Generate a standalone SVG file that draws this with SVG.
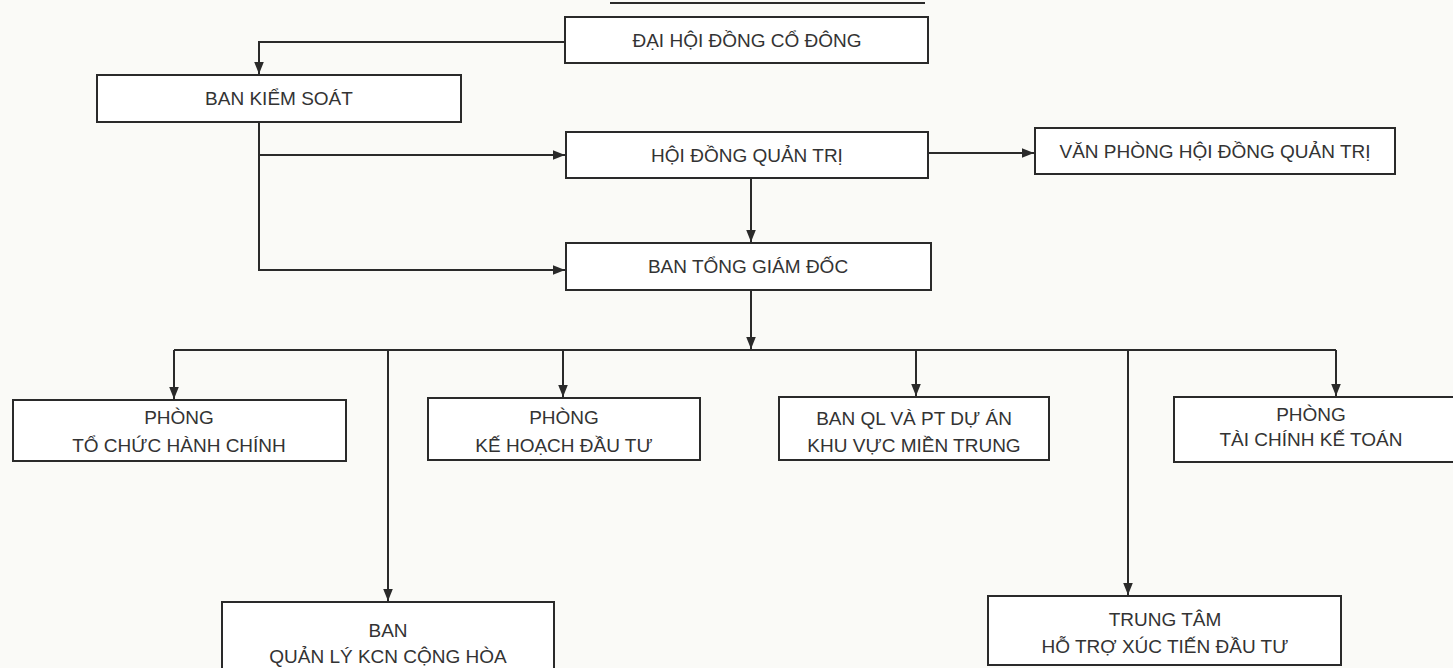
<svg xmlns="http://www.w3.org/2000/svg" width="1453" height="668" viewBox="0 0 1453 668">
<defs>
<style>
.box{fill:#ffffff;stroke:#2a2a2a;stroke-width:2}
.t{font-family:"Liberation Sans",Arial,sans-serif;font-size:19px;fill:#333333;text-anchor:middle}
.c{fill:none;stroke:#2a2a2a;stroke-width:2}
</style>
<marker id="ah" viewBox="0 0 10 10" refX="10" refY="5" markerWidth="6" markerHeight="6" orient="auto" markerUnits="strokeWidth">
<path d="M0,1 L10,5 L0,9 z" fill="#2a2a2a"/>
</marker>
</defs>
<rect width="1453" height="668" fill="#fafaf7"/>
<line x1="610" y1="3" x2="925" y2="3" stroke="#2a2a2a" stroke-width="2"/>
<g id="connectors">
<path class="c" d="M565,42 H259 V74" marker-end="url(#ah)"/>
<path class="c" d="M259,122 V270 H565" marker-end="url(#ah)"/>
<path class="c" d="M259,155 H565" marker-end="url(#ah)"/>
<path class="c" d="M928,153 H1034" marker-end="url(#ah)"/>
<path class="c" d="M751,178 V242" marker-end="url(#ah)"/>
<path class="c" d="M751,290 V349" marker-end="url(#ah)"/>
<path class="c" d="M174,350 H1336"/>
<path class="c" d="M174,350 V399" marker-end="url(#ah)"/>
<path class="c" d="M388,350 V601" marker-end="url(#ah)"/>
<path class="c" d="M563,350 V397" marker-end="url(#ah)"/>
<path class="c" d="M916,350 V396" marker-end="url(#ah)"/>
<path class="c" d="M1128,350 V595" marker-end="url(#ah)"/>
<path class="c" d="M1336,350 V396" marker-end="url(#ah)"/>
</g>
<g id="dhdcd">
<rect class="box" x="565" y="17" width="363" height="46"/>
<text class="t" x="747" y="47">ĐẠI HỘI ĐỒNG CỔ ĐÔNG</text>
</g>
<g id="bks">
<rect class="box" x="97" y="75" width="364" height="47"/>
<text class="t" x="279" y="105">BAN KIỂM SOÁT</text>
</g>
<g id="hdqt">
<rect class="box" x="566" y="132" width="362" height="46"/>
<text class="t" x="747" y="162">HỘI ĐỒNG QUẢN TRỊ</text>
</g>
<g id="vphdqt">
<rect class="box" x="1035" y="128" width="360" height="46"/>
<text class="t" x="1215" y="158">VĂN PHÒNG HỘI ĐỒNG QUẢN TRỊ</text>
</g>
<g id="btgd">
<rect class="box" x="566" y="243" width="365" height="47"/>
<text class="t" x="748" y="273">BAN TỔNG GIÁM ĐỐC</text>
</g>
<g id="tchc">
<rect class="box" x="13" y="400" width="333" height="61"/>
<text class="t" x="179" y="424">PHÒNG</text>
<text class="t" x="179" y="452">TỔ CHỨC HÀNH CHÍNH</text>
</g>
<g id="khdt">
<rect class="box" x="428" y="398" width="272" height="62"/>
<text class="t" x="564" y="424">PHÒNG</text>
<text class="t" x="564" y="452">KẾ HOẠCH ĐẦU TƯ</text>
</g>
<g id="banqlpt">
<rect class="box" x="779" y="397" width="270" height="63"/>
<text class="t" x="914" y="425">BAN QL VÀ PT DỰ ÁN</text>
<text class="t" x="914" y="452">KHU VỰC MIỀN TRUNG</text>
</g>
<g id="tckt">
<rect class="box" x="1174" y="397" width="290" height="65"/>
<text class="t" x="1311" y="421">PHÒNG</text>
<text class="t" x="1311" y="446">TÀI CHÍNH KẾ TOÁN</text>
</g>
<g id="kcn">
<rect class="box" x="222" y="602" width="332" height="72"/>
<text class="t" x="388" y="637">BAN</text>
<text class="t" x="388" y="663">QUẢN LÝ KCN CỘNG HÒA</text>
</g>
<g id="ttxt">
<rect class="box" x="988" y="596" width="353" height="69"/>
<text class="t" x="1165" y="626">TRUNG TÂM</text>
<text class="t" x="1165" y="653">HỖ TRỢ XÚC TIẾN ĐẦU TƯ</text>
</g>
</svg>
